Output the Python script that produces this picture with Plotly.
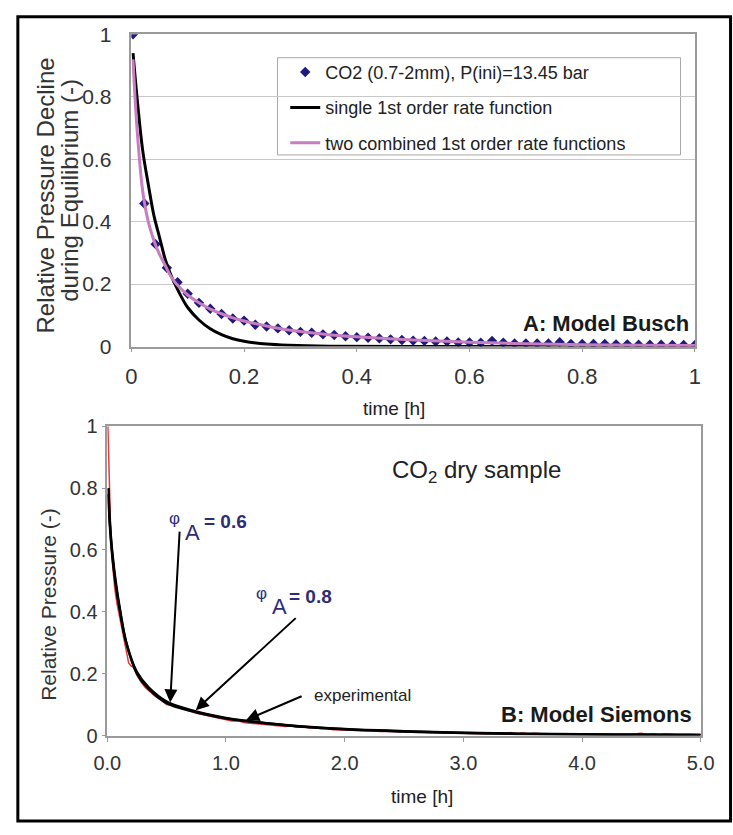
import plotly.graph_objects as go

W, H = 733, 835
FONT = "Arial, Liberation Sans, sans-serif"

# ---------------- data: panel A (Model Busch) ----------------
t_busch = [0.003, 0.023, 0.043, 0.063, 0.082, 0.10, 0.12, 0.14, 0.16, 0.18, 0.20, 0.22, 0.24,
           0.26, 0.28, 0.30, 0.32, 0.34, 0.36, 0.38, 0.40, 0.42, 0.44, 0.46, 0.48, 0.50, 0.52,
           0.54, 0.56, 0.58, 0.60, 0.62, 0.64, 0.66, 0.68, 0.70, 0.72, 0.74, 0.76, 0.78, 0.80,
           0.82, 0.84, 0.86, 0.88, 0.90, 0.92, 0.94, 0.96, 0.98, 1.00]
p_busch = [1.0, 0.458, 0.328, 0.252, 0.206, 0.169, 0.14, 0.121, 0.104, 0.09, 0.083, 0.07, 0.064,
           0.058, 0.052, 0.047, 0.044, 0.039, 0.037, 0.033, 0.03, 0.028, 0.026, 0.023, 0.021, 0.019,
           0.018, 0.016, 0.016, 0.013, 0.013, 0.012, 0.018, 0.012, 0.01, 0.01, 0.01, 0.01, 0.014,
           0.008, 0.008, 0.008, 0.008, 0.007, 0.007, 0.006, 0.006, 0.006, 0.005, 0.005, 0.005]

t_single = [0.003, 0.01, 0.02, 0.03, 0.04, 0.05, 0.06, 0.07, 0.08, 0.09, 0.10, 0.12, 0.14, 0.16,
            0.18, 0.20, 0.24, 0.28, 0.35, 0.5, 1.0]
p_single = [0.94, 0.80, 0.63, 0.52, 0.42, 0.35, 0.28, 0.23, 0.19, 0.155, 0.125, 0.085, 0.057,
            0.038, 0.025, 0.017, 0.008, 0.004, 0.001, 0.0, 0.0]

t_two = [0.003, 0.01, 0.02, 0.03, 0.04, 0.05, 0.06, 0.07, 0.08, 0.10, 0.12, 0.14, 0.16, 0.18,
         0.20, 0.25, 0.30, 0.35, 0.40, 0.5, 0.6, 0.7, 0.8, 0.9, 1.0]
p_two = [0.92, 0.70, 0.50, 0.40, 0.34, 0.295, 0.26, 0.225, 0.20, 0.165, 0.14, 0.12, 0.105, 0.092,
         0.082, 0.062, 0.048, 0.038, 0.031, 0.021, 0.014, 0.009, 0.006, 0.004, 0.003]

# ---------------- data: panel B (Model Siemons) ----------------
t_exp = [0.005, 0.01, 0.015, 0.02, 0.03, 0.04, 0.05, 0.065, 0.08, 0.10, 0.12, 0.14, 0.16, 0.18,
         0.20, 0.22, 0.25, 0.28, 0.32, 0.36, 0.40, 0.45, 0.50, 0.55, 0.60, 0.65, 0.70, 0.75,
         0.80, 0.85, 0.90, 0.95, 1.00, 1.05, 1.10, 1.15, 1.20, 1.30, 1.40, 1.50, 1.55, 1.60,
         1.65, 1.70, 1.75, 1.80, 1.85, 1.90, 2.0, 2.1, 2.2, 2.3, 2.4, 2.5, 2.6, 2.8, 3.0, 3.2,
         3.3, 3.35, 3.4, 3.45, 3.5, 3.55, 3.6, 3.7, 3.8, 4.0, 4.2, 4.4, 4.5, 4.55, 4.6, 4.65,
         4.7, 4.8, 4.9, 5.0]
p_exp = [1.0, 0.93, 0.82, 0.74, 0.64, 0.57, 0.52, 0.47, 0.43, 0.39, 0.35, 0.31, 0.27, 0.235,
         0.225, 0.22, 0.195, 0.175, 0.155, 0.14, 0.128, 0.115, 0.10, 0.097, 0.09, 0.085, 0.078,
         0.072, 0.068, 0.063, 0.058, 0.054, 0.05, 0.047, 0.048, 0.042, 0.04, 0.036, 0.032,
         0.029, 0.031, 0.027, 0.029, 0.024, 0.027, 0.022, 0.024, 0.019, 0.018, 0.016, 0.017,
         0.013, 0.014, 0.011, 0.010, 0.009, 0.007, 0.006, 0.009, 0.006, 0.01, 0.005, 0.008,
         0.005, 0.007, 0.004, 0.004, 0.003, 0.003, 0.003, 0.007, 0.003, 0.006, 0.003, 0.006,
         0.004, 0.005, 0.004]

t_model = [0.01, 0.02, 0.04, 0.07, 0.11, 0.16, 0.25, 0.35, 0.5, 0.7, 1.0, 1.2, 1.5, 2.0, 2.5,
           3.0, 3.5, 4.0, 4.5, 5.0]
p_phi06 = [0.80, 0.70, 0.60, 0.50, 0.40, 0.30, 0.20, 0.15, 0.105, 0.08, 0.055, 0.045, 0.033,
           0.02, 0.013, 0.008, 0.005, 0.003, 0.002, 0.001]
p_phi08 = [0.78, 0.69, 0.59, 0.49, 0.395, 0.30, 0.205, 0.155, 0.11, 0.083, 0.057, 0.046, 0.034,
           0.021, 0.014, 0.009, 0.006, 0.004, 0.003, 0.002]

ticks_a = [0, 0.2, 0.4, 0.6, 0.8, 1]
ticktext_a = ["0", "0.2", "0.4", "0.6", "0.8", "1"]
ticks_bx = [0, 1, 2, 3, 4, 5]
ticktext_bx = ["0.0", "1.0", "2.0", "3.0", "4.0", "5.0"]


def px(x):
    return x / W


def py(y):
    return 1 - y / H


fig = go.Figure()

fig.add_trace(go.Scatter(x=t_busch, y=p_busch, mode="markers", name="CO2 (0.7-2mm), P(ini)=13.45 bar",
                         marker=dict(symbol="diamond", size=8, color="#1f1a7a"),
                         xaxis="x", yaxis="y", legendgroup="a"))
fig.add_trace(go.Scatter(x=t_single, y=p_single, mode="lines", name="single 1st order rate function",
                         line=dict(color="#000000", width=3, shape="spline"),
                         xaxis="x", yaxis="y", legendgroup="b"))
fig.add_trace(go.Scatter(x=t_two, y=p_two, mode="lines", name="two combined 1st order rate functions",
                         line=dict(color="#c77dbf", width=3, shape="spline"),
                         xaxis="x", yaxis="y", legendgroup="c"))

fig.add_trace(go.Scatter(x=t_exp, y=p_exp, mode="lines", name="experimental", showlegend=False,
                         line=dict(color="#e23b3b", width=1.5), xaxis="x2", yaxis="y2"))
fig.add_trace(go.Scatter(x=t_model, y=p_phi06, mode="lines", name="phi_A=0.6", showlegend=False,
                         line=dict(color="#000000", width=2.5, shape="spline"), xaxis="x2", yaxis="y2"))
fig.add_trace(go.Scatter(x=t_model, y=p_phi08, mode="lines", name="phi_A=0.8", showlegend=False,
                         line=dict(color="#000000", width=2.5, shape="spline"), xaxis="x2", yaxis="y2"))

axis_common = dict(showline=True, linecolor="#9a9a9a", linewidth=1.5, mirror=True, zeroline=False,
                   fixedrange=True)

fig.update_layout(
    width=W, height=H,
    margin=dict(l=0, r=0, t=0, b=0),
    paper_bgcolor="white", plot_bgcolor="white",
    font=dict(family=FONT, color="#222222"),
    showlegend=True,
    legend=dict(x=px(282), y=py(43), xanchor="left", yanchor="top",
                bgcolor="rgba(0,0,0,0)", borderwidth=0, tracegroupgap=9,
                font=dict(size=18, family=FONT, color="#222222"), itemwidth=30),
    xaxis=dict(domain=[px(122), px(708)], range=[0, 1], tickvals=ticks_a, ticktext=ticktext_a,
               showgrid=False, ticks="outside", ticklen=4, tickcolor="#9a9a9a",
               tickfont=dict(size=22, color="#333"), ticklabelstandoff=5, anchor="y", **axis_common),
    yaxis=dict(domain=[py(344), py(23)], range=[0, 1], tickvals=ticks_a, ticktext=ticktext_a,
               showgrid=True, gridcolor="#c8c8c8", gridwidth=1, ticks="",
               tickfont=dict(size=21, color="#333"), ticklabelstandoff=14, anchor="x", **axis_common),
    xaxis2=dict(domain=[px(97), px(714)], range=[0, 5], tickvals=ticks_bx, ticktext=ticktext_bx,
                showgrid=False, ticks="outside", ticklen=5, tickcolor="#9a9a9a",
                tickfont=dict(size=20, color="#333"), ticklabelstandoff=4, anchor="y2", **axis_common),
    yaxis2=dict(domain=[py(744), py(426)], range=[0, 1], tickvals=ticks_a, ticktext=ticktext_a,
                showgrid=False, ticks="outside", ticklen=4, tickcolor="#9a9a9a",
                tickfont=dict(size=20, color="#333"), ticklabelstandoff=0, anchor="x2", **axis_common),
)

shapes = [
    # outer frame
    dict(type="rect", xref="paper", yref="paper", x0=px(4), x1=px(745), y0=py(832), y1=py(5),
         line=dict(color="black", width=3), fillcolor="rgba(0,0,0,0)", layer="above"),
    # legend box
    dict(type="rect", xref="paper", yref="paper", x0=px(274), x1=px(693), y0=py(147), y1=py(47),
         line=dict(color="#a8a8a8", width=1), fillcolor="white", layer="below"),
]
fig.update_layout(shapes=shapes)

ann = []
# axis titles
ann.append(dict(text="Relative Pressure Decline", xref="paper", yref="paper",
                x=px(33), y=py(189), textangle=-90, showarrow=False, font=dict(size=24, color="#333"),
                xanchor="center", yanchor="middle"))
ann.append(dict(text="during Equilibrium (-)", xref="paper", yref="paper",
                x=px(58), y=py(183), textangle=-90, showarrow=False, font=dict(size=24, color="#333"),
                xanchor="center", yanchor="middle"))
ann.append(dict(text="time [h]", xref="paper", yref="paper", x=px(395), y=py(408), showarrow=False,
                font=dict(size=19), xanchor="center", yanchor="middle"))
ann.append(dict(text="Relative Pressure (-)", xref="paper", yref="paper", x=px(36), y=py(609),
                textangle=-90, showarrow=False, font=dict(size=21, color="#333"),
                xanchor="center", yanchor="middle"))
ann.append(dict(text="time [h]", xref="paper", yref="paper", x=px(424), y=py(807), showarrow=False,
                font=dict(size=19), xanchor="center", yanchor="middle"))
# panel labels
ann.append(dict(text="<b>A: Model Busch</b>", xref="paper", yref="paper", x=px(704), y=py(320),
                showarrow=False, font=dict(size=22, color="#1a1a1a"), xanchor="right", yanchor="middle"))
ann.append(dict(text="<b>B: Model Siemons</b>", xref="paper", yref="paper", x=px(707), y=py(722),
                showarrow=False, font=dict(size=22, color="#1a1a1a"), xanchor="right", yanchor="middle"))
ann.append(dict(text="CO<sub>2</sub> dry sample", xref="paper", yref="paper", x=px(391), y=py(473),
                showarrow=False, font=dict(size=24, color="#222"), xanchor="left", yanchor="middle"))
# phi labels
phi_col = "#2e2c78"
for (xphi, yphi, xa, ya, xv, yv, val) in [(167, 521, 186, 535, 195, 524, "0.6"),
                                          (257, 598, 276, 611, 284, 601, "0.8")]:
    ann.append(dict(text="φ", xref="paper", yref="paper", x=px(xphi), y=py(yphi), showarrow=False,
                    font=dict(size=17, color=phi_col), xanchor="center", yanchor="middle"))
    ann.append(dict(text="A", xref="paper", yref="paper", x=px(xa), y=py(ya), showarrow=False,
                    font=dict(size=22, color=phi_col), xanchor="center", yanchor="middle"))
    ann.append(dict(text="<b>= " + val + "</b>", xref="paper", yref="paper", x=px(xv), y=py(yv),
                    showarrow=False, font=dict(size=19, color=phi_col), xanchor="left", yanchor="middle"))
ann.append(dict(text="experimental", xref="paper", yref="paper", x=px(310), y=py(703), showarrow=False,
                font=dict(size=17, color="#222"), xanchor="left", yanchor="middle"))
# arrows (tail -> head, in data coordinates of panel B)
for (tx, ty, hx, hy) in [(0.61, 0.664, 0.53, 0.107), (1.60, 0.384, 0.745, 0.082), (1.65, 0.129, 1.17, 0.05)]:
    ann.append(dict(text="", xref="x2", yref="y2", axref="x2", ayref="y2", x=hx, y=hy, ax=tx, ay=ty,
                    showarrow=True, arrowhead=2, arrowsize=1.3, arrowwidth=2, arrowcolor="black"))
fig.update_layout(annotations=ann)

fig.write_html("out.html")
